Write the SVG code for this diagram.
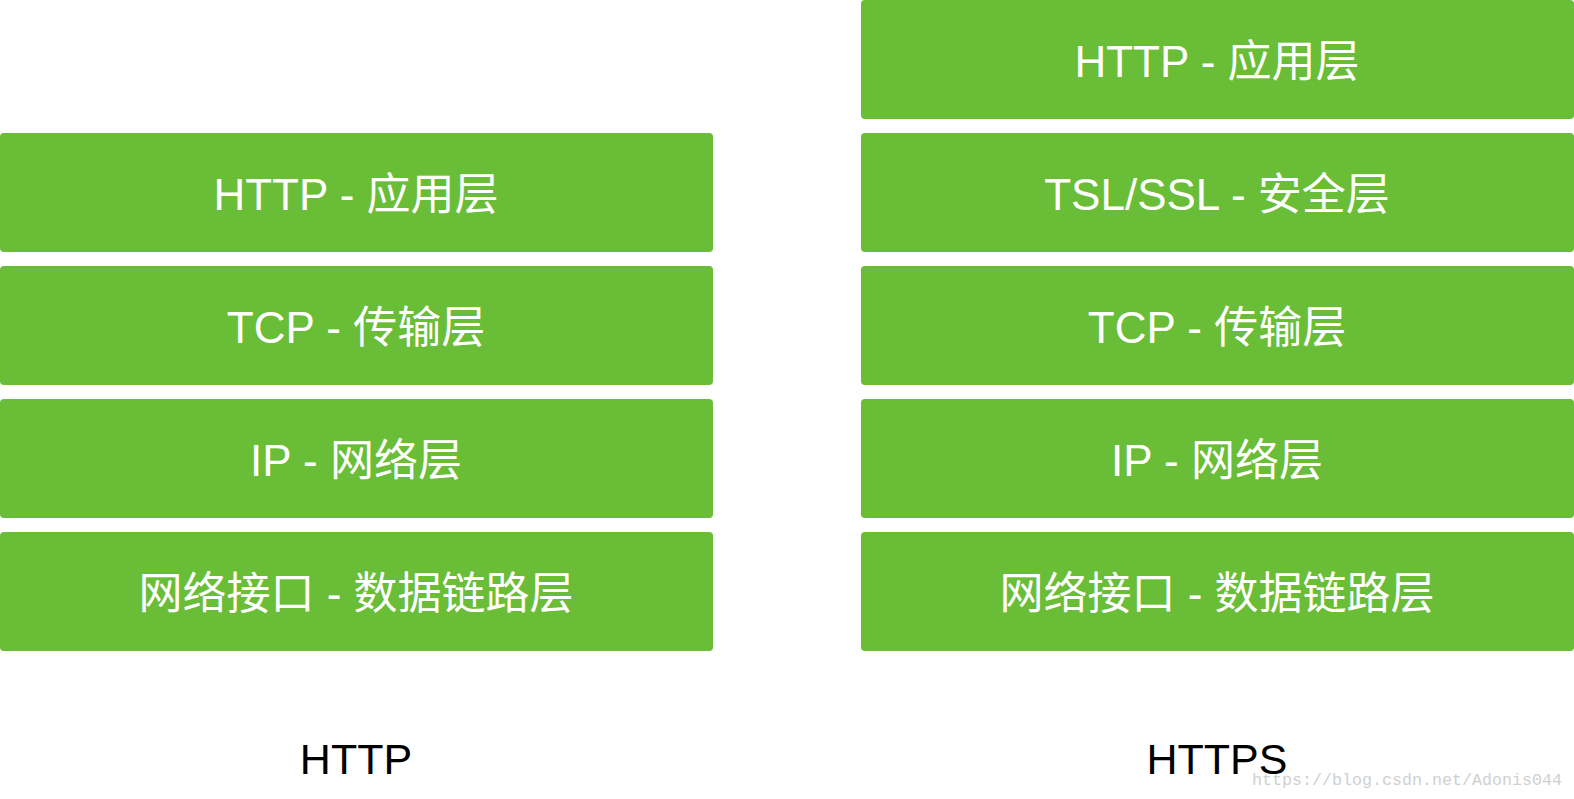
<svg xmlns="http://www.w3.org/2000/svg" width="1574" height="799" viewBox="0 0 1574 799">
<style>
.box{fill:#6abd37;}
.lbl{font-family:"Liberation Sans","Noto Sans CJK SC",sans-serif;font-size:44px;fill:#ffffff;text-anchor:middle;}
.cap{font-family:"Liberation Sans","Noto Sans CJK SC",sans-serif;font-size:43px;fill:#000000;text-anchor:middle;}
.wm{font-family:"Liberation Mono",monospace;font-size:17px;fill:#d0d0d0;}
</style>
<rect width="1574" height="799" fill="#ffffff"/>
<g id="http-app"><rect class="box" x="0" y="133" width="713" height="119" rx="4"/><text class="lbl" x="356" y="210">HTTP - 应用层</text></g>
<g id="http-tcp"><rect class="box" x="0" y="266" width="713" height="119" rx="4"/><text class="lbl" x="356" y="343">TCP - 传输层</text></g>
<g id="http-ip"><rect class="box" x="0" y="399" width="713" height="119" rx="4"/><text class="lbl" x="356" y="476">IP - 网络层</text></g>
<g id="http-link"><rect class="box" x="0" y="532" width="713" height="119" rx="4"/><text class="lbl" x="356" y="609">网络接口 - 数据链路层</text></g>
<g id="https-app"><rect class="box" x="861" y="0" width="713" height="119" rx="4"/><text class="lbl" x="1217" y="77">HTTP - 应用层</text></g>
<g id="https-tls"><rect class="box" x="861" y="133" width="713" height="119" rx="4"/><text class="lbl" x="1217" y="210">TSL/SSL - 安全层</text></g>
<g id="https-tcp"><rect class="box" x="861" y="266" width="713" height="119" rx="4"/><text class="lbl" x="1217" y="343">TCP - 传输层</text></g>
<g id="https-ip"><rect class="box" x="861" y="399" width="713" height="119" rx="4"/><text class="lbl" x="1217" y="476">IP - 网络层</text></g>
<g id="https-link"><rect class="box" x="861" y="532" width="713" height="119" rx="4"/><text class="lbl" x="1217" y="609">网络接口 - 数据链路层</text></g>
<g id="captions">
<text class="cap" x="356" y="774">HTTP</text>
<text class="cap" x="1217" y="774">HTTPS</text>
</g>
<text class="wm" x="1252" y="785" textLength="310" lengthAdjust="spacingAndGlyphs">https://blog.csdn.net/Adonis044</text>
<g id="connectors"></g>
</svg>
